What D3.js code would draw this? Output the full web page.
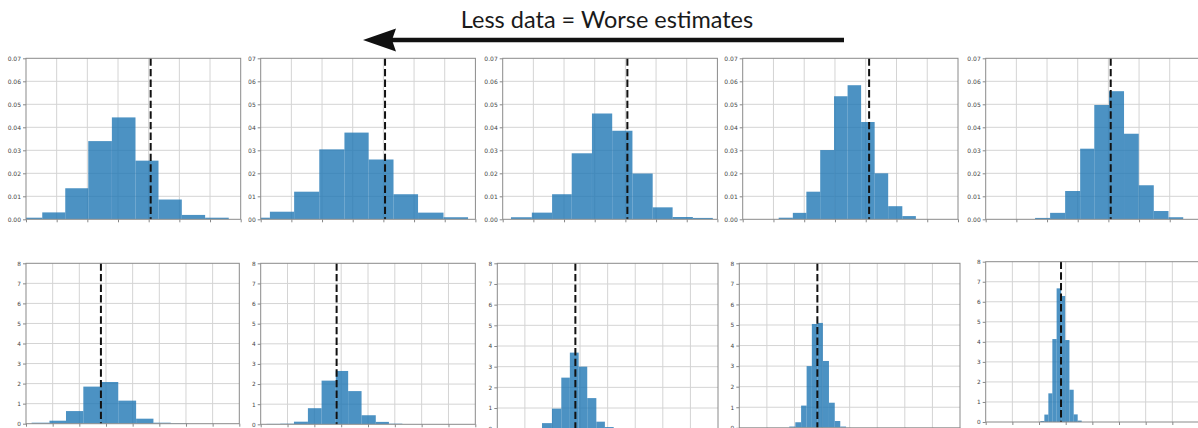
<!DOCTYPE html>
<html>
<head>
<meta charset="utf-8">
<script src="https://cdn.jsdelivr.net/npm/d3@7"></script>
<style>
  html, body { margin: 0; padding: 0; background: #fff; }
  svg { display: block; }
</style>
</head>
<body>
<svg id="chart" width="1198" height="428"></svg>
<script>
// ---- Data -------------------------------------------------------------
const titleText = "Less data = Worse estimates";

// Top row: histogram bin edges (x units) and densities, one array per panel
const topEdges = [
  [-0.23, 0.53, 1.28, 2.03, 2.80, 3.57, 4.32, 5.08, 5.84, 6.61],
  [-0.50, 0.30, 1.09, 1.91, 2.73, 3.52, 4.33, 5.13, 5.96, 6.76],
  [0.27, 0.95, 1.61, 2.25, 2.91, 3.57, 4.23, 4.89, 5.54, 6.20, 6.85],
  [1.17, 1.63, 2.07, 2.52, 2.97, 3.41, 3.85, 4.29, 4.73, 5.19, 5.63],
  [1.61, 2.10, 2.59, 3.08, 3.54, 4.02, 4.51, 4.99, 5.48, 5.96, 6.44]
];
const topDensity = [
  [0.0007, 0.0030, 0.0135, 0.0340, 0.0443, 0.0255, 0.0086, 0.0019, 0.0007],
  [0.0007, 0.0033, 0.0120, 0.0304, 0.0377, 0.0260, 0.0109, 0.0029, 0.0009],
  [0.0009, 0.0029, 0.0109, 0.0287, 0.0460, 0.0385, 0.0199, 0.0052, 0.0010, 0.0006],
  [0.0007, 0.0028, 0.0120, 0.0301, 0.0535, 0.0583, 0.0423, 0.0200, 0.0057, 0.0014],
  [0.0006, 0.0028, 0.0123, 0.0307, 0.0497, 0.0557, 0.0372, 0.0148, 0.0036, 0.0009]
];
const topMeans = [4.065, 4.054, 4.065, 4.11, 4.076];
const topXDomain = [0, 7];
const topYTicks = [0, 0.01, 0.02, 0.03, 0.04, 0.05, 0.06, 0.07];

// Bottom row
const bottomEdges = [
  [0.21, 0.88, 1.50, 2.15, 2.81, 3.46, 4.13, 4.78, 5.43, 6.09],
  [0.22, 0.73, 1.24, 1.76, 2.27, 2.80, 3.26, 3.76, 4.29, 4.78, 5.28],
  [1.31, 1.62, 1.98, 2.32, 2.63, 2.95, 3.26, 3.59, 3.90, 4.22, 4.53],
  [1.81, 2.03, 2.24, 2.44, 2.63, 2.84, 3.03, 3.25, 3.46, 3.66, 3.87],
  [2.05, 2.20, 2.35, 2.50, 2.66, 2.83, 2.98, 3.14, 3.30, 3.45, 3.60]
];
const bottomDensity = [
  [0.05, 0.15, 0.63, 1.85, 2.08, 1.15, 0.25, 0.05, 0.02],
  [0.02, 0.03, 0.13, 0.80, 2.17, 2.65, 1.65, 0.45, 0.12, 0.03],
  [0.02, 0.27, 0.97, 2.47, 3.68, 3.00, 1.48, 0.34, 0.08, 0.02],
  [0.06, 0.27, 1.08, 3.00, 5.05, 5.10, 3.25, 1.22, 0.33, 0.06],
  [0.05, 0.37, 1.43, 4.14, 6.67, 6.29, 4.09, 1.61, 0.38, 0.07]
];
const bottomMeans = [2.81, 2.83, 2.83, 2.83, 2.825];
const bottomXDomain = [0, 8];
const bottomYTicks = [0, 1, 2, 3, 4, 5, 6, 7, 8];

// ---- Layout (axes frames in px: left, top, width, height) --------------
const topFrames = [
  [26, 58.3, 214.7, 161],
  [260.7, 58.3, 214.7, 161],
  [502.7, 58.3, 214.7, 161],
  [742.7, 58.3, 215.3, 161],
  [985.7, 58.3, 214.7, 161]
];
const bottomFrames = [
  [26, 263.3, 213.3, 160.4],
  [260.7, 263.3, 214.6, 161],
  [497.3, 263.3, 220.7, 165.4],
  [739.3, 263.3, 220.7, 164.5],
  [985.7, 261.7, 213.3, 160.3]
];
// white margin of each tile to the right of its axes
const tileRightPad = [7.5, 4.5, 4.5, 4.5, 4.5];

const svg = d3.select("#chart");
svg.append("rect").attr("width", 1198).attr("height", 428).attr("fill", "#fff");

const defs = svg.append("defs");

function drawPanel(id, frame, pad, edges, dens, mean, xDomain, yTicks, yFmt, fontSize) {
  const [L, T, W, H] = frame;
  const x = d3.scaleLinear().domain(xDomain).range([L, L + W]);
  const y = d3.scaleLinear().domain([yTicks[0], yTicks[yTicks.length - 1]]).range([T + H, T]);
  const g = svg.append("g");

  // panel background (each figure is a white tile)
  g.append("rect")
    .attr("x", L - 26).attr("y", T - 8)
    .attr("width", W + 26 + pad).attr("height", H + 20)
    .attr("fill", "#fff");

  defs.append("clipPath").attr("id", "clip" + id)
    .append("rect").attr("x", L).attr("y", T).attr("width", W).attr("height", H);

  const xTicks = d3.range(xDomain[0], xDomain[1] + 1);

  // gridlines
  g.append("g").selectAll("line").data(xTicks.slice(1, -1)).join("line")
    .attr("x1", d => x(d)).attr("x2", d => x(d))
    .attr("y1", T).attr("y2", T + H)
    .attr("stroke", "#d4d4d4").attr("stroke-width", 1);
  g.append("g").selectAll("line").data(yTicks.slice(1, -1)).join("line")
    .attr("x1", L).attr("x2", L + W)
    .attr("y1", d => y(d)).attr("y2", d => y(d))
    .attr("stroke", "#d4d4d4").attr("stroke-width", 1);

  // histogram bars
  g.append("g").attr("clip-path", `url(#clip${id})`)
    .selectAll("rect").data(dens).join("rect")
    .attr("x", (d, i) => x(edges[i]))
    .attr("width", (d, i) => x(edges[i + 1]) - x(edges[i]))
    .attr("y", d => y(d))
    .attr("height", d => y(yTicks[0]) - y(d))
    .attr("fill", "#1f77b4").attr("fill-opacity", 0.8);

  // mean line
  g.append("line")
    .attr("x1", x(mean)).attr("x2", x(mean))
    .attr("y1", T).attr("y2", T + H)
    .attr("stroke", "#111").attr("stroke-width", 2)
    .attr("stroke-dasharray", "7.4,3.2");

  // axes
  const yAxis = d3.axisLeft(y).tickValues(yTicks).tickFormat(yFmt).tickSize(3).tickPadding(2);
  const ya = g.append("g").attr("transform", `translate(${L},0)`).call(yAxis);
  ya.select(".domain").remove();
  ya.selectAll(".tick line").attr("stroke", "#888");
  ya.selectAll(".tick text").attr("fill", "#444")
    .style("font-family", "DejaVu Sans").style("font-size", fontSize + "px");

  const xAxis = d3.axisBottom(x).tickValues(xTicks).tickFormat("").tickSize(3);
  const xa = g.append("g").attr("transform", `translate(0,${T + H})`).call(xAxis);
  xa.select(".domain").remove();
  xa.selectAll(".tick line").attr("stroke", "#888");

  // spines
  g.append("rect")
    .attr("x", L).attr("y", T).attr("width", W).attr("height", H)
    .attr("fill", "none").attr("stroke", "#8a8a8a").attr("stroke-width", 1);
}

const fmtTop = d3.format(".2f");
const fmtBottom = d3.format("d");

// draw right-to-left so each tile overlaps its right neighbour's margin
for (let i = 4; i >= 0; i--) {
  drawPanel("t" + i, topFrames[i], tileRightPad[i], topEdges[i], topDensity[i], topMeans[i],
            topXDomain, topYTicks, fmtTop, 6);
}
for (let i = 4; i >= 0; i--) {
  drawPanel("b" + i, bottomFrames[i], tileRightPad[i], bottomEdges[i], bottomDensity[i], bottomMeans[i],
            bottomXDomain, bottomYTicks, fmtBottom, 5.8);
}

// ---- Title and arrow ---------------------------------------------------
svg.append("text")
  .attr("x", 607).attr("y", 28)
  .attr("text-anchor", "middle")
  .style("font-family", "Lato")
  .style("font-size", "23.5px")
  .attr("fill", "#1a1a1a")
  .text(titleText);

svg.append("line")
  .attr("x1", 392).attr("x2", 844)
  .attr("y1", 40).attr("y2", 40)
  .attr("stroke", "#111").attr("stroke-width", 4.5);
svg.append("path")
  .attr("d", "M363,40 L396,28.5 L392,40 L396,51.5 Z")
  .attr("fill", "#111");
</script>
</body>
</html>
